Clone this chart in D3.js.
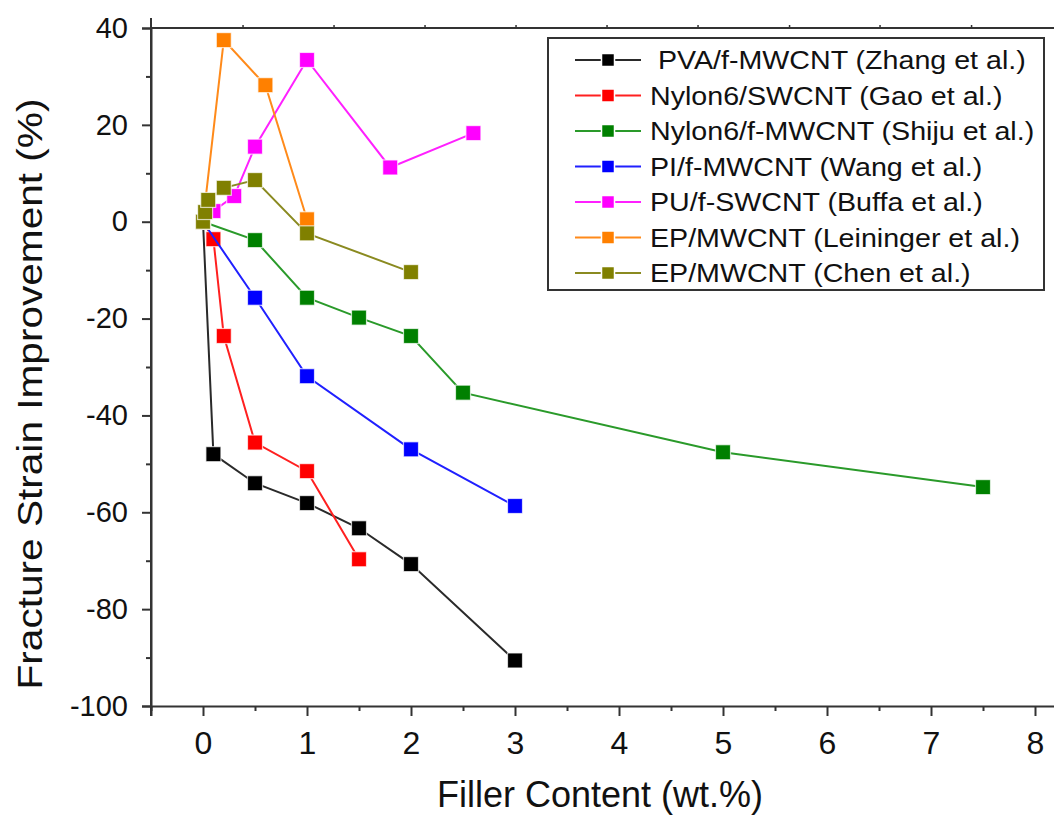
<!DOCTYPE html>
<html>
<head>
<meta charset="utf-8">
<script src="https://cdn.jsdelivr.net/npm/d3@7/dist/d3.min.js"></script>
<style>
  html, body { margin: 0; padding: 0; background: #fff; }
  svg { display: block; }
  text { font-family: "Liberation Sans", Arial, sans-serif; fill: #111; }
</style>
</head>
<body>
<svg id="chart" width="1054" height="818"></svg>
<script>
// Series labels and colours (legend order = drawing order)
const seriesNames = [
  " PVA/f-MWCNT (Zhang et al.)",
  "Nylon6/SWCNT (Gao et al.)",
  "Nylon6/f-MWCNT (Shiju et al.)",
  "PI/f-MWCNT (Wang et al.)",
  "PU/f-SWCNT (Buffa et al.)",
  "EP/MWCNT (Leininger et al.)",
  "EP/MWCNT (Chen et al.)"
];
const seriesColors = ["#000000", "#ff0000", "#008000", "#0000ff", "#ff00ff", "#ff8000", "#808000"];
const lineColors   = ["#2a2a2a", "#ff2020", "#2a9a2a", "#2020ff", "#ff20ff", "#ff8a1a", "#8a8a20"];

// Filler content (wt.%) and fracture strain improvement (%) per series
const zhangX = [0, 0.1, 0.5, 1, 1.5, 2, 3];
const zhangY = [0, -48, -54, -58.1, -63.3, -70.7, -90.6];
const gaoX = [0, 0.1, 0.2, 0.5, 1, 1.5];
const gaoY = [0, -3.6, -23.6, -45.6, -51.5, -69.7];
const shijuX = [0, 0.5, 1, 1.5, 2, 2.5, 5, 7.5];
const shijuY = [0, -3.8, -15.7, -19.8, -23.6, -35.3, -47.6, -54.8];
const wangX = [0, 0.5, 1, 2, 3];
const wangY = [0, -15.7, -31.9, -47, -58.7];
const buffaX = [0, 0.1, 0.3, 0.5, 1, 1.8, 2.6];
const buffaY = [0, 2.2, 5.3, 15.5, 33.4, 11.2, 18.3];
const leiningerX = [0, 0.2, 0.6, 1];
const leiningerY = [0, 37.5, 28.2, 0.5];
const chenX = [0, 0.02, 0.05, 0.2, 0.5, 1, 2];
const chenY = [0, 2, 4.5, 7, 8.6, -2.4, -10.4];

// Tick values
const xTicks = [0, 1, 2, 3, 4, 5, 6, 7, 8];
const xMinorTicks = [-0.5, 0.5, 1.5, 2.5, 3.5, 4.5, 5.5, 6.5, 7.5];
const yTicks = [-100, -80, -60, -40, -20, 0, 20, 40];
const yMinorTicks = [-90, -70, -50, -30, -10, 10, 30];
const topTicks = [0.385, 1.26, 2.135, 3.01, 3.885, 4.76, 5.64, 6.51, 7.39];

const seriesX = [zhangX, gaoX, shijuX, wangX, buffaX, leiningerX, chenX];
const seriesY = [zhangY, gaoY, shijuY, wangY, buffaY, leiningerY, chenY];
const series = seriesNames.map((name, i) => ({
  name,
  color: seriesColors[i],
  line: lineColors[i],
  points: seriesX[i].map((x, j) => ({ x, y: seriesY[i][j] }))
}));

const svg = d3.select("#chart");

const x = d3.scaleLinear().domain([-0.5, 8.3]).range([151, 151 + 8.8 * 104]);
const y = d3.scaleLinear().domain([-100, 40]).range([706, 28]);

const axisColor = "#333";
const plainNumber = d => String(d); // hyphen-minus, as in the printed figure

// Top frame line with its small ticks
svg.append("line")
  .attr("x1", x(-0.5)).attr("x2", 1054)
  .attr("y1", y(40)).attr("y2", y(40))
  .attr("stroke", axisColor).attr("stroke-width", 2);
svg.append("g").selectAll("line").data(topTicks).join("line")
  .attr("x1", d => x(d)).attr("x2", d => x(d))
  .attr("y1", y(40)).attr("y2", y(40) - 3)
  .attr("stroke", axisColor).attr("stroke-width", 1.5);

// Y axis
const yAxis = svg.append("g").attr("transform", `translate(${x(-0.5)},0)`)
  .call(d3.axisLeft(y).tickValues(yTicks).tickSize(9).tickPadding(14).tickFormat(plainNumber));
svg.append("g").attr("transform", `translate(${x(-0.5)},0)`)
  .call(d3.axisLeft(y).tickValues(yMinorTicks).tickSize(5).tickFormat(""))
  .call(g => g.select(".domain").remove());

// X axis
const xAxis = svg.append("g").attr("transform", `translate(0,${y(-100)})`)
  .call(d3.axisBottom(x).tickValues(xTicks).tickSize(10).tickPadding(15).tickFormat(plainNumber));
svg.append("g").attr("transform", `translate(0,${y(-100)})`)
  .call(d3.axisBottom(x).tickValues(xMinorTicks).tickSize(5).tickFormat(""))
  .call(g => g.select(".domain").remove());

// Extend the left axis a little past the frame corners
svg.append("line")
  .attr("x1", x(-0.5)).attr("x2", x(-0.5))
  .attr("y1", y(40) - 10).attr("y2", y(-100) + 10)
  .attr("stroke", axisColor).attr("stroke-width", 2);

svg.selectAll(".domain, .tick line").attr("stroke", axisColor).attr("stroke-width", 2);
yAxis.selectAll(".tick text").attr("font-size", 29).attr("fill", "#111")
  .attr("font-family", "'Liberation Sans', Arial, sans-serif");
xAxis.selectAll(".tick text").attr("font-size", 32).attr("fill", "#111")
  .attr("font-family", "'Liberation Sans Narrow', 'Liberation Sans', Arial, sans-serif");

// Axis titles
svg.append("text")
  .attr("transform", `translate(42,394) rotate(-90) scale(1.16,1)`)
  .attr("text-anchor", "middle")
  .attr("font-size", 35)
  .text("Fracture Strain Improvement (%)");
svg.append("text")
  .attr("x", 600).attr("y", 807)
  .attr("text-anchor", "middle")
  .attr("font-size", 36)
  .text("Filler Content (wt.%)");

// Series lines and square markers
const lineGen = d3.line().x(d => x(d.x)).y(d => y(d.y));
const markerSize = 15;
series.forEach(s => {
  const g = svg.append("g");
  g.append("path").datum(s.points)
    .attr("d", lineGen)
    .attr("fill", "none")
    .attr("stroke", s.line)
    .attr("stroke-width", 2);
  g.selectAll("rect").data(s.points).join("rect")
    .attr("x", d => x(d.x) - markerSize / 2)
    .attr("y", d => y(d.y) - markerSize / 2)
    .attr("width", markerSize).attr("height", markerSize)
    .attr("fill", s.color)
    .attr("stroke", "#fff").attr("stroke-opacity", 0.7).attr("stroke-width", 1.2);
});

// Legend
const legend = svg.append("g");
legend.append("rect")
  .attr("x", 548).attr("y", 38).attr("width", 496).attr("height", 252)
  .attr("fill", "#fff").attr("stroke", "#333").attr("stroke-width", 2);
const rowH = 35.5;
series.forEach((s, i) => {
  const cy = 60 + i * rowH;
  legend.append("line")
    .attr("x1", 575).attr("x2", 641).attr("y1", cy).attr("y2", cy)
    .attr("stroke", s.line).attr("stroke-width", 2);
  legend.append("rect")
    .attr("x", 608 - 6.5).attr("y", cy - 6.5).attr("width", 13).attr("height", 13)
    .attr("fill", s.color).attr("stroke", "#fff").attr("stroke-width", 1.5);
  legend.append("text")
    .attr("transform", `translate(650,${cy + 9}) scale(1.145,1)`)
    .attr("font-size", 25)
    .style("white-space", "pre")
    .text(s.name);
});
</script>
</body>
</html>
